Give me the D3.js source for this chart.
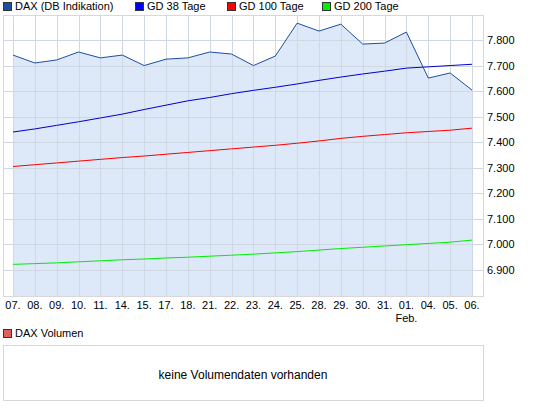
<!DOCTYPE html>
<html lang="de">
<head>
<meta charset="UTF-8">
<script src="https://d3js.org/d3.v7.min.js"></script>
<style>
  body { margin: 0; background: #fff; }
  text { font-family: "Liberation Sans", Arial, sans-serif; font-size: 11px; fill: #000; }
</style>
</head>
<body>
<div id="chart"></div>
<script>
const days = ["07.", "08.", "09.", "10.", "11.", "14.", "15.", "17.", "18.", "21.", "22.",
              "23.", "24.", "25.", "28.", "29.", "30.", "31.", "01.", "04.", "05.", "06."];
const dax = [7741, 7710, 7722, 7753, 7730, 7741, 7700, 7725, 7730, 7753, 7745,
             7700, 7737, 7866, 7835, 7862, 7784, 7788, 7831, 7651, 7671, 7604];
const gd38 = [7440, 7452, 7466, 7480, 7495, 7510, 7528, 7545, 7562, 7575, 7590,
              7603, 7615, 7628, 7642, 7655, 7667, 7678, 7690, 7695, 7700, 7705];
const gd100 = [7305, 7312, 7319, 7326, 7333, 7340, 7346, 7353, 7360, 7367, 7374,
               7381, 7388, 7396, 7405, 7415, 7423, 7430, 7437, 7442, 7447, 7455];
const gd200 = [6922, 6925, 6928, 6932, 6936, 6940, 6943, 6947, 6950, 6954, 6958,
               6962, 6967, 6972, 6978, 6984, 6989, 6994, 6999, 7004, 7009, 7017];
const yTicks = [6900, 7000, 7100, 7200, 7300, 7400, 7500, 7600, 7700, 7800];
const legend = [
  { name: "DAX (DB Indikation)", color: "#1c4fa0" },
  { name: "GD 38 Tage", color: "#0000ff" },
  { name: "GD 100 Tage", color: "#ff0000" },
  { name: "GD 200 Tage", color: "#00ee00" }
];

const width = 545, height = 413;
const pLeft = 3, pRight = 483, pTop = 15, pBottom = 296;

const svg = d3.select("#chart").append("svg")
  .attr("width", width).attr("height", height);

const x = d3.scalePoint().domain(d3.range(days.length)).range([13, 472]);
const y = d3.scaleLinear().domain([6900, 7800]).range([270, 40]);

// frame
svg.append("rect").attr("x", pLeft + 0.5).attr("y", pTop + 0.5)
  .attr("width", pRight - pLeft).attr("height", pBottom - pTop)
  .attr("fill", "#fff").attr("stroke", "#d8d8d8");

// fill
const area = d3.area().x((d, i) => x(i)).y0(pBottom).y1(d => y(d));
svg.append("path").datum(dax).attr("d", area).attr("fill", "#dde8f8");

// grid
svg.selectAll(".vg").data(days).enter().append("line")
  .attr("x1", (d, i) => Math.round(x(i)) + 0.5).attr("x2", (d, i) => Math.round(x(i)) + 0.5)
  .attr("y1", pTop).attr("y2", pBottom).attr("stroke", "#d0d8e4");
svg.selectAll(".hg").data(yTicks).enter().append("line")
  .attr("x1", pLeft).attr("x2", pRight)
  .attr("y1", d => Math.round(y(d)) + 0.5).attr("y2", d => Math.round(y(d)) + 0.5)
  .attr("stroke", "#d0d8e4");

// lines
const line = d3.line().x((d, i) => x(i)).y(d => y(d));
[[gd200, "#00ee00"], [gd100, "#ff0000"], [gd38, "#0000cc"], [dax, "#1c4fa0"]].forEach(s => {
  svg.append("path").datum(s[0]).attr("d", line)
    .attr("fill", "none").attr("stroke", s[1]).attr("stroke-width", 1);
});

// y labels
svg.selectAll(".yl").data(yTicks).enter().append("text")
  .attr("x", 487).attr("y", d => y(d) + 4)
  .text(d => d3.format(",")(d).replace(",", "."));

// x labels
svg.selectAll(".xl").data(days).enter().append("text")
  .attr("x", (d, i) => x(i)).attr("y", 309).attr("text-anchor", "middle").text(d => d);
svg.append("text").attr("x", x(18)).attr("y", 322).attr("text-anchor", "middle").text("Feb.");

// legend
let lx = 3;
legend.forEach((l, i) => {
  svg.append("rect").attr("x", lx + 0.5).attr("y", 2.5).attr("width", 8).attr("height", 8)
    .attr("fill", l.color).attr("stroke", "#333");
  svg.append("text").attr("x", lx + 12).attr("y", 10).text(l.name);
  lx += [132, 92, 95][i] || 0;
});

// volume panel
svg.append("rect").attr("x", 3.5).attr("y", 329.5).attr("width", 8).attr("height", 8)
  .attr("fill", "#e06060").attr("stroke", "#333");
svg.append("text").attr("x", 15).attr("y", 337).text("DAX Volumen");
svg.append("rect").attr("x", pLeft + 0.5).attr("y", 345.5)
  .attr("width", pRight - pLeft).attr("height", 55)
  .attr("fill", "#fff").attr("stroke", "#d8d8d8");
svg.append("text").attr("x", (pLeft + pRight) / 2).attr("y", 379)
  .attr("text-anchor", "middle").style("font-size", "12px").text("keine Volumendaten vorhanden");
</script>
</body>
</html>
